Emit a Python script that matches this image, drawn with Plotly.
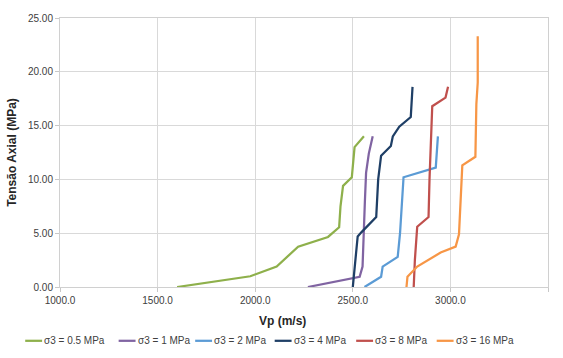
import plotly.graph_objects as go

# ---- data ----
names = ["σ3 = 0.5 MPa", "σ3 = 1 MPa", "σ3 = 2 MPa", "σ3 = 4 MPa", "σ3 = 8 MPa", "σ3 = 16 MPa"]
colors = ["#8EB04B", "#8064A2", "#5B9BD5", "#1F3F66", "#C0504D", "#F79646"]

vp_05 = [1600, 1975, 2110, 2220, 2373, 2430, 2437, 2450, 2495, 2509, 2557]
sa_05 = [0.0, 1.0, 1.9, 3.75, 4.65, 5.55, 7.5, 9.4, 10.2, 13.0, 14.0]

vp_1 = [2270, 2535, 2550, 2558, 2562, 2568, 2582, 2602]
sa_1 = [0.0, 0.95, 1.9, 5.0, 8.0, 10.6, 12.4, 14.0]

vp_2 = [2560, 2645, 2653, 2730, 2742, 2760, 2925, 2936]
sa_2 = [0.0, 0.95, 1.9, 2.8, 5.0, 10.2, 11.1, 14.0]

vp_4 = [2500, 2510, 2525, 2545, 2620, 2630, 2645, 2695, 2705, 2738, 2797, 2806]
sa_4 = [0.0, 2.0, 4.7, 5.1, 6.5, 10.0, 12.2, 13.1, 14.0, 14.9, 15.8, 18.6]

vp_8 = [2812, 2818, 2830, 2888, 2893, 2898, 2907, 2975, 2988]
sa_8 = [0.0, 2.5, 5.6, 6.5, 10.0, 13.0, 16.8, 17.6, 18.6]

vp_16 = [2775, 2780, 2830, 2950, 3027, 3044, 3061, 3128, 3133, 3140, 3140]
sa_16 = [0.0, 0.95, 1.9, 3.2, 3.75, 4.9, 11.3, 12.1, 17.0, 19.0, 23.3]

xs = [vp_05, vp_1, vp_2, vp_4, vp_8, vp_16]
ys = [sa_05, sa_1, sa_2, sa_4, sa_8, sa_16]

# ---- figure ----
W, H = 563, 358
ML, MR, MT, MB = 57, 15, 12, 71
PW, PH = W - ML - MR, H - MT - MB

def px_x(p):
    return (p - ML) / PW

def px_y(p):
    return (H - MB - p) / PH

fig = go.Figure()
for x, y, n, c in zip(xs, ys, names, colors):
    fig.add_trace(go.Scatter(x=x, y=y, mode="lines", name=n,
                             line=dict(color=c, width=2.25), showlegend=False))

font_family = "Liberation Sans, Arial, sans-serif"
fig.update_layout(
    width=W, height=H,
    margin=dict(l=ML, r=MR, t=MT, b=MB),
    paper_bgcolor="white", plot_bgcolor="white",
    font=dict(family=font_family, size=10, color="#404040"),
    showlegend=False,
)
fig.update_xaxes(range=[1000, 3500], dtick=500, tick0=1000, tickformat=".1f",
                 showgrid=True, gridcolor="#D9D9D9", gridwidth=1,
                 showline=True, mirror=True, linecolor="#D0D0D0", linewidth=1,
                 ticks="outside", ticklen=4, tickcolor="#C8C8C8",
                 zeroline=False, tickfont=dict(size=10, color="#404040"))
fig.update_yaxes(range=[0, 25], dtick=5, tick0=0, tickformat=".2f",
                 showgrid=True, gridcolor="#D9D9D9", gridwidth=1,
                 showline=True, mirror=True, linecolor="#D0D0D0", linewidth=1,
                 ticks="outside", ticklen=4, tickcolor="#C8C8C8",
                 zeroline=False, tickfont=dict(size=10, color="#404040"),
                 title=dict(text="<b>Tensão Axial (MPa)</b>", standoff=8,
                            font=dict(size=12, color="#262626")))

# x-axis title
fig.add_annotation(text="<b>Vp (m/s)</b>", xref="paper", yref="paper",
                   x=px_x(281), y=px_y(322), showarrow=False,
                   xanchor="center", yanchor="middle",
                   font=dict(size=12, color="#262626"))

# manual legend
leg_line_start = [22, 116, 193, 273, 355, 436]
leg_y = 342
for start, n, c in zip(leg_line_start, names, colors):
    fig.add_shape(type="line", xref="paper", yref="paper",
                  x0=px_x(start), x1=px_x(start + 17), y0=px_y(leg_y), y1=px_y(leg_y),
                  line=dict(color=c, width=2.25))
    fig.add_annotation(text=n, xref="paper", yref="paper",
                       x=px_x(start + 17), y=px_y(leg_y), showarrow=False,
                       xanchor="left", yanchor="middle",
                       font=dict(size=10, color="#404040"))

fig.write_html("out.html")
